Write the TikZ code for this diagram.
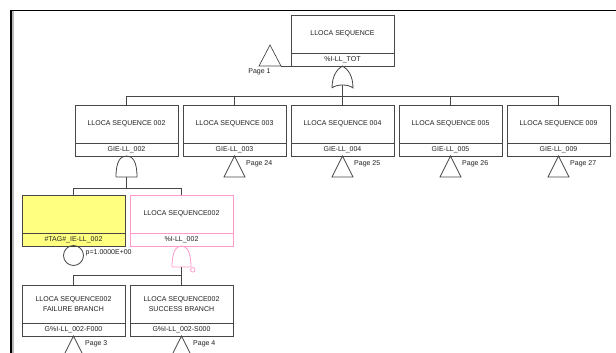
\documentclass[tikz,border=0pt]{standalone}
\usepackage{fontspec}
\setmainfont{Liberation Sans}
\definecolor{ln}{HTML}{474747}
\definecolor{yel}{HTML}{FFFF80}
\definecolor{pnk}{HTML}{FF99CC}
\definecolor{txc}{HTML}{202020}
\tikzset{
  fbox/.style={line width=0.8pt, minimum width=103pt, minimum height=51pt, inner sep=0pt, outer sep=0pt},
  txt/.style={font=\fontsize{7}{10}\selectfont, text=txc, inner sep=0pt, align=center},
  conn/.style={draw=ln, line width=0.8pt},
  gate/.style={draw=ln, line width=0.8pt},
  xfer/.style={draw=ln, line width=0.7pt},
}
% name, cx, top, title, id, line colour, fill colour
\newcommand\ftbox[7]{%
  \node[fbox,draw=#6,fill=#7] (#1) at (#2,#3+25.5) {};
  \draw[draw=#6,line width=0.8pt] ([yshift=13pt]#1.south west) -- ([yshift=13pt]#1.south east);
  \node[txt] (#1t) at (#2,#3+19) {#4};
  \node[txt] (#1i) at (#2,#3+44.5) {#5};
}
\begin{document}
\begin{tikzpicture}[x=1pt,y=-1pt]
\useasboundingbox (0,0) rectangle (616,353);
\clip (0,0) rectangle (616,353);
\fill[white] (0,0) rectangle (616,353);
% frame
\fill[gray!55] (11.6,11) rectangle (13.6,353);
\draw[black,line width=1.2pt] (11,10.5) -- (616,10.5);
\draw[black,line width=1.2pt] (11,10) -- (11,353);

% boxes
\ftbox{top}{342.5}{15}{LLOCA SEQUENCE}{\%I-LL\_TOT}{ln}{white}
\ftbox{b1}{126.5}{105}{LLOCA SEQUENCE 002}{GIE-LL\_002}{ln}{white}
\ftbox{b2}{234.5}{105}{LLOCA SEQUENCE 003}{GIE-LL\_003}{ln}{white}
\ftbox{b3}{342.5}{105}{LLOCA SEQUENCE 004}{GIE-LL\_004}{ln}{white}
\ftbox{b4}{450.5}{105}{LLOCA SEQUENCE 005}{GIE-LL\_005}{ln}{white}
\ftbox{b5}{558.5}{105}{LLOCA SEQUENCE 009}{GIE-LL\_009}{ln}{white}
\ftbox{ye}{73.5}{195}{}{\#TAG\#\_IE-LL\_002}{ln}{yel}
\ftbox{pk}{181.5}{195}{LLOCA SEQUENCE002}{\%I-LL\_002}{pnk}{white}
\ftbox{fb}{73.5}{285}{LLOCA SEQUENCE002\\FAILURE BRANCH}{G\%I-LL\_002-F000}{ln}{white}
\ftbox{sb}{181.5}{285}{LLOCA SEQUENCE002\\SUCCESS BRANCH}{G\%I-LL\_002-S000}{ln}{white}

% transfer triangle Page 1
\coordinate (t0a) at (270,45);
\draw[xfer] (t0a) -- ++(-11,21) coordinate (t0l) -- ++(22,0) coordinate (t0r) -- cycle;
\draw[conn] (t0r) -- (top.south west);
\node[txt] (p1) at (259.5,72) {Page 1};

% OR gate under top
\draw[gate] (332,88) .. controls (332,76) and (337,69) .. (342.5,66)
  .. controls (348,69) and (353,76) .. (353,88)
  .. controls (349,84) and (336,84) .. (332,88);
\coordinate (g0b) at (342.5,85);
\coordinate (bus0) at (342.5,96);
\draw[conn] (g0b) -- (bus0);
\foreach \n in {b1,b2,b3,b4,b5} {\draw[conn] (\n.north) |- (bus0);}

% transfer triangles row 2
\foreach \n/\p in {b2/24,b3/25,b4/26,b5/27} {
  \draw[xfer] (\n.south) -- ++(-10.5,21) -- ++(21,0) -- cycle;
  \path (\n.south) ++(11.5,8) node[txt,anchor=west] (pg\p) {Page \p};
}

% AND gate under b1
\draw[gate] (116,177) .. controls (116,162) and (120,156) .. (126.5,156)
  .. controls (133,156) and (137,162) .. (137,177) -- (116,177);
\coordinate (g1b) at (126.5,177);
\coordinate (bus1) at (126.5,188);
\draw[conn] (g1b) -- (bus1);
\draw[conn] (ye.north) |- (bus1);
\draw[conn] (pk.north) |- (bus1);

% basic event circle
\node[draw=ln,line width=0.8pt,circle,minimum size=20pt,inner sep=0pt] (ev) at (73.5,255.5) {};
\node[txt,anchor=west] (evp) at (85.5,253) {p=1.0000E+00};

% pink NOT-AND gate
\draw[draw=pnk,line width=0.8pt] (172,267) .. controls (172,252) and (176,246) .. (181.5,246)
  .. controls (187,246) and (191,252) .. (191,267) -- (172,267);
\draw[draw=pnk,line width=0.7pt] (192.8,269.8) circle (2.3);
\coordinate (g2b) at (181.5,267);
\coordinate (bus2) at (181.5,275);
\draw[conn] (g2b) -- (bus2);
\draw[conn] (fb.north) |- (bus2);
\draw[conn] (sb.north) -- (bus2);

% bottom transfer triangles
\draw[xfer] (fb.south) -- ++(-10.5,21) -- ++(21,0) -- cycle;
\path (fb.south) ++(11.5,8) node[txt,anchor=west] (pg3) {Page 3};
\draw[xfer] (sb.south) -- ++(-10.5,21) -- ++(21,0) -- cycle;
\path (sb.south) ++(11.5,8) node[txt,anchor=west] (pg4) {Page 4};
\end{tikzpicture}
\end{document}
